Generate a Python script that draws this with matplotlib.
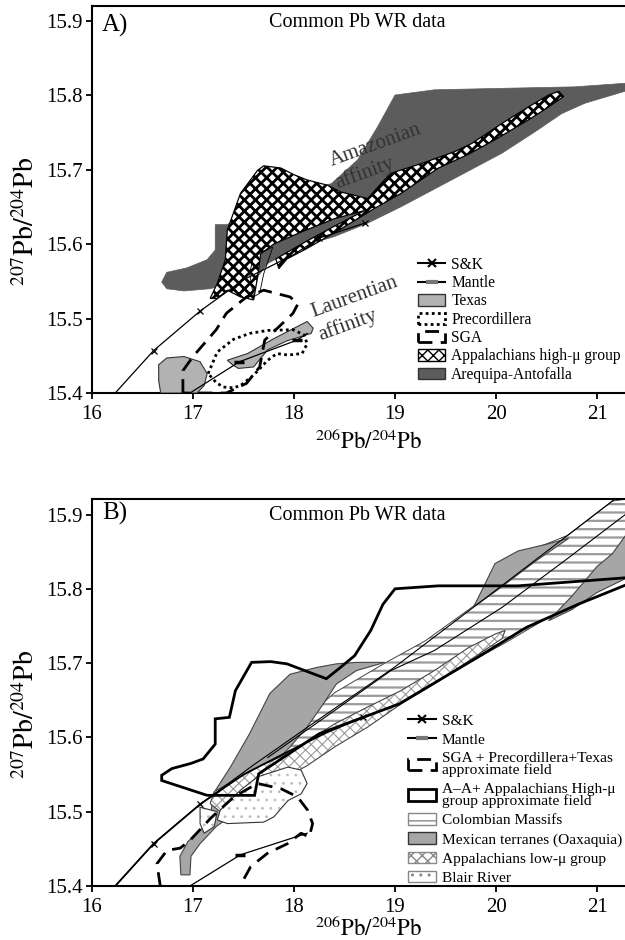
import matplotlib
matplotlib.use('Agg')
import matplotlib.pyplot as plt
from matplotlib.patches import Polygon, Patch
from matplotlib.lines import Line2D

plt.rcParams['font.family'] = ['Liberation Serif', 'DejaVu Serif']
plt.rcParams['mathtext.fontset'] = 'stix'

# ---------------- Panel A data ----------------
xticks = [16, 17, 18, 19, 20, 21]
yticks = [15.4, 15.5, 15.6, 15.7, 15.8, 15.9]

sk_a_x = [16.23, 16.61, 17.07, 17.50, 18.00, 18.25, 18.70]
sk_a_y = [15.400, 15.457, 15.510, 15.552, 15.586, 15.608, 15.628]
sk_a_mx = [16.61, 17.07, 18.25, 18.70]
sk_a_my = [15.457, 15.510, 15.608, 15.628]

mantle_a_x = [16.97, 17.46, 18.03, 18.13]
mantle_a_y = [15.400, 15.442, 15.471, 15.480]
mantle_a_mx = [17.46, 18.03]
mantle_a_my = [15.442, 15.471]

areq_x = [16.69, 16.74, 16.94, 17.14, 17.22, 17.22, 17.34, 17.60, 18.00, 18.37, 18.63, 18.83,
          19.00, 19.39, 20.06, 20.78, 21.30, 21.30, 20.88, 20.65, 20.39, 20.06, 19.56, 19.06,
          18.73, 18.40, 18.07, 17.74, 17.64, 17.17, 16.91, 16.74]
areq_y = [15.549, 15.562, 15.568, 15.579, 15.592, 15.626, 15.626, 15.650, 15.670, 15.681, 15.713, 15.758,
          15.800, 15.807, 15.809, 15.811, 15.816, 15.806, 15.789, 15.775, 15.751, 15.722, 15.686, 15.650,
          15.628, 15.610, 15.597, 15.574, 15.556, 15.540, 15.537, 15.540]

appal_x = [17.17, 17.24, 17.32, 17.34, 17.47, 17.64, 17.70, 17.87, 18.00, 18.13, 18.33, 18.46, 18.73,
           18.86, 18.96, 19.26, 19.59, 19.76, 20.06, 20.32, 20.52, 20.62, 20.67, 20.52, 20.35, 19.99,
           19.72, 19.43, 19.06, 18.80, 18.40, 18.10, 17.93, 17.85, 17.82, 18.10, 18.40, 18.70, 18.40,
           18.07, 17.80, 17.67, 17.64, 17.60, 17.47, 17.34, 17.24]
appal_y = [15.527, 15.547, 15.579, 15.619, 15.668, 15.699, 15.705, 15.702, 15.693, 15.686, 15.679, 15.670, 15.661,
           15.681, 15.695, 15.708, 15.724, 15.735, 15.762, 15.784, 15.800, 15.805, 15.798, 15.784, 15.769, 15.740,
           15.720, 15.702, 15.668, 15.648, 15.615, 15.592, 15.580, 15.567, 15.580, 15.602, 15.624, 15.645, 15.634,
           15.616, 15.600, 15.587, 15.556, 15.525, 15.529, 15.538, 15.527]

small_x = [17.56, 17.60, 17.79, 17.70, 17.66, 17.60]
small_y = [15.561, 15.583, 15.596, 15.560, 15.534, 15.529]

tex1_x = [16.66, 16.74, 16.91, 17.07, 17.14, 17.11, 17.04, 16.68, 16.66]
tex1_y = [15.438, 15.447, 15.449, 15.442, 15.426, 15.410, 15.400, 15.400, 15.417]
tex2_x = [17.34, 17.54, 17.80, 18.03, 18.13, 18.19, 18.17, 17.93, 17.74, 17.60, 17.45, 17.39]
tex2_y = [15.444, 15.453, 15.473, 15.489, 15.496, 15.487, 15.480, 15.470, 15.458, 15.435, 15.433, 15.438]

prec_x = [17.15, 17.24, 17.40, 17.56, 17.74, 17.99, 18.10, 18.13, 18.08, 17.94, 17.83, 17.74, 17.60,
          17.47, 17.40, 17.30, 17.23, 17.15]
prec_y = [15.426, 15.455, 15.472, 15.480, 15.484, 15.485, 15.478, 15.466, 15.453, 15.451, 15.453, 15.444, 15.424,
          15.410, 15.407, 15.408, 15.414, 15.426]

sga_x = [16.90, 16.90, 17.00, 17.23, 17.33, 17.53, 17.70, 17.96, 18.04, 17.99, 17.89, 17.71, 17.66, 17.53, 17.33, 16.90]
sga_y = [15.400, 15.430, 15.449, 15.485, 15.507, 15.529, 15.538, 15.529, 15.520, 15.507, 15.494, 15.471, 15.435,
         15.413, 15.400, 15.400]

# ---------------- Panel B data ----------------
sk_b_x = [16.23, 16.61, 17.07, 17.50, 18.00, 18.33, 18.68]
sk_b_y = [15.400, 15.457, 15.510, 15.550, 15.585, 15.607, 15.627]
sk_b_mx = [16.61, 17.07, 18.68]
sk_b_my = [15.457, 15.510, 15.627]

mantle_b_x = [16.97, 17.47, 18.13]
mantle_b_y = [15.400, 15.442, 15.471]
mantle_b_mx = [17.47]
mantle_b_my = [15.442]

line1_x = [16.23, 16.61, 17.07, 17.60, 18.20, 19.00, 19.785, 20.71, 21.17]
line1_y = [15.400, 15.457, 15.510, 15.563, 15.620, 15.695, 15.776, 15.872, 15.920]
line2_x = [17.74, 18.40, 18.96, 19.39, 20.06, 20.72, 21.30]
line2_y = [15.573, 15.636, 15.690, 15.717, 15.775, 15.842, 15.902]

col_x = [17.60, 17.90, 18.40, 18.90, 19.30, 19.78, 20.00, 20.40, 20.71, 21.15, 21.30, 21.30, 20.90,
         20.50, 20.10, 19.70, 19.30, 18.90, 18.50, 18.10, 17.80]
col_y = [15.560, 15.600, 15.660, 15.700, 15.730, 15.777, 15.820, 15.855, 15.872, 15.918, 15.921, 15.830, 15.790,
         15.760, 15.728, 15.698, 15.665, 15.635, 15.605, 15.578, 15.563]

mex1_x = [16.88, 16.87, 16.95, 17.07, 17.17, 17.20, 17.37, 17.56, 17.76, 17.96, 18.22, 18.42, 18.62, 18.90,
          18.62, 18.42, 18.29, 18.13, 17.96, 17.83, 17.56, 17.40, 17.23, 17.07, 16.98, 16.97]
mex1_y = [15.415, 15.440, 15.460, 15.475, 15.490, 15.524, 15.560, 15.605, 15.659, 15.685, 15.694, 15.699, 15.701, 15.701,
          15.690, 15.672, 15.645, 15.614, 15.587, 15.569, 15.524, 15.497, 15.480, 15.457, 15.440, 15.415]
mex2_x = [19.78, 19.99, 20.22, 20.50, 20.72, 20.40, 20.00]
mex2_y = [15.776, 15.834, 15.851, 15.860, 15.868, 15.838, 15.797]
mex3_x = [20.52, 20.75, 21.00, 21.15, 21.30, 21.30, 21.00, 20.75]
mex3_y = [15.757, 15.790, 15.830, 15.847, 15.875, 15.815, 15.795, 15.772]

low_x = [17.17, 17.21, 17.47, 17.67, 17.94, 18.40, 18.73, 19.06, 19.39, 19.73, 19.99, 20.09, 20.06, 19.73,
         19.39, 19.06, 18.73, 18.40, 18.13, 17.94, 17.54, 17.27]
low_y = [15.511, 15.527, 15.547, 15.562, 15.578, 15.618, 15.641, 15.663, 15.690, 15.721, 15.739, 15.744, 15.733, 15.703,
         15.672, 15.645, 15.614, 15.587, 15.562, 15.548, 15.528, 15.500]

blair_x = [17.64, 17.94, 18.07, 18.13, 18.07, 17.94, 17.80, 17.70, 17.34, 17.24, 17.27, 17.47]
blair_y = [15.547, 15.560, 15.556, 15.538, 15.524, 15.515, 15.493, 15.486, 15.484, 15.489, 15.502, 15.529]
blair2_x = [17.07, 17.24, 17.21, 17.11, 17.07]
blair2_y = [15.506, 15.500, 15.480, 15.471, 15.484]

spt_x = [16.676, 16.643, 16.743, 16.874, 16.974, 17.173, 17.405, 17.637, 17.869, 18.035, 18.135, 18.184,
         18.151, 18.070, 17.936, 17.737, 17.571, 17.465]
spt_y = [15.400, 15.430, 15.448, 15.451, 15.462, 15.491, 15.520, 15.538, 15.531, 15.520, 15.502, 15.484,
         15.466, 15.471, 15.457, 15.444, 15.426, 15.400]

aa_x = [17.14, 16.69, 16.69, 16.79, 16.98, 17.10, 17.22, 17.22, 17.36, 17.42, 17.58, 17.77, 17.93, 18.32,
        18.44, 18.60, 18.76, 18.88, 19.00, 19.43, 20.22, 21.30, 21.30, 20.81, 20.30, 19.82, 19.04, 18.25,
        17.65, 17.61]
aa_y = [15.522, 15.542, 15.549, 15.558, 15.565, 15.571, 15.591, 15.625, 15.627, 15.663, 15.701, 15.702, 15.699, 15.679,
        15.692, 15.710, 15.744, 15.779, 15.800, 15.804, 15.804, 15.815, 15.806, 15.779, 15.748, 15.708, 15.645, 15.605,
        15.551, 15.522]

AREQ = '#5c5c5c'
TEX = '#b2b2b2'
MEX = '#a6a6a6'


def poly(ax, xs, ys, z, **kw):
    p = Polygon(list(zip(xs, ys)), closed=True, zorder=z, **kw)
    ax.add_patch(p)
    return p


def hatched(ax, xs, ys, z, hatch, hcolor, hlw, outline='k', olw=0.8):
    old = plt.rcParams['hatch.linewidth']
    plt.rcParams['hatch.linewidth'] = hlw
    p = Polygon(list(zip(xs, ys)), closed=True, zorder=z, facecolor='white',
                edgecolor=hcolor, lw=0, hatch=hatch)
    if hasattr(p, 'set_hatch_linewidth'):
        p.set_hatch_linewidth(hlw)
    ax.add_patch(p)
    plt.rcParams['hatch.linewidth'] = old
    poly(ax, xs, ys, z + 0.01, fill=False, edgecolor=outline, lw=olw)


def hpatch(hatch, hcolor, hlw, **kw):
    old = plt.rcParams['hatch.linewidth']
    plt.rcParams['hatch.linewidth'] = hlw
    p = Patch(facecolor='white', edgecolor=hcolor, hatch=hatch, **kw)
    if hasattr(p, 'set_hatch_linewidth'):
        p.set_hatch_linewidth(hlw)
    plt.rcParams['hatch.linewidth'] = old
    return p


def style_axes(ax, ylim_top, label_y, xlabel_y):
    ax.set_xlim(16, 21.277)
    ax.set_ylim(15.4, ylim_top)
    ax.set_xticks(xticks)
    ax.set_yticks(yticks)
    ax.set_xticklabels([str(v) for v in xticks])
    ax.set_yticklabels([f'{v:.1f}' for v in yticks])
    ax.spines['right'].set_visible(False)
    for s in ['left', 'top', 'bottom']:
        ax.spines[s].set_linewidth(1.5)
    ax.tick_params(axis='both', direction='out', length=4.5, width=1.3, labelsize=15)
    ax.tick_params(axis='x', pad=4)
    ax.tick_params(axis='y', pad=2)
    ax.set_xlabel(r'$^{206}\mathrm{Pb}/^{204}\mathrm{Pb}$', fontsize=16.5)
    ax.set_ylabel(r'$^{207}\mathrm{Pb}/^{204}\mathrm{Pb}$', fontsize=20)
    ax.yaxis.set_label_coords(-0.098, label_y)
    ax.xaxis.set_label_coords(0.518, xlabel_y)
    ax.text(0.498, 0.957, 'Common Pb WR data', transform=ax.transAxes, ha='center', va='center',
            fontsize=14.5)


fig = plt.figure(figsize=(6.25, 9.4), dpi=100)
axA = fig.add_axes([0.1472, 0.5819, 0.8528, 0.4117])
axB = fig.add_axes([0.1472, 0.05745, 0.8528, 0.4114])

# ---------- Panel A ----------
poly(axA, areq_x, areq_y, 1, facecolor=AREQ, edgecolor=AREQ, lw=0.5)
hatched(axA, appal_x, appal_y, 2, 'xxx', 'black', 2.0, outline='k', olw=0.9)
poly(axA, small_x, small_y, 3, fill=False, edgecolor='k', lw=0.6)
poly(axA, tex1_x, tex1_y, 3, facecolor=TEX, edgecolor='#333333', lw=0.8)
poly(axA, tex2_x, tex2_y, 3, facecolor=TEX, edgecolor='#333333', lw=0.8)
axA.plot(prec_x, prec_y, color='k', lw=2, ls=(0, (1, 1.2)), zorder=5)
axA.plot(sga_x, sga_y, color='k', lw=2, ls=(0, (5, 3)), zorder=5)
axA.plot(sk_a_x, sk_a_y, color='k', lw=0.9, zorder=6)
axA.plot(sk_a_mx, sk_a_my, ls='none', marker='x', ms=5, mew=0.9, color='k', zorder=6)
axA.plot(mantle_a_x, mantle_a_y, color='k', lw=0.9, zorder=6)
axA.plot(mantle_a_mx, mantle_a_my, ls='none', marker='_', ms=7, mew=2.5, color='k', zorder=6)

axA.text(18.81, 15.733, 'Amazonian', rotation=20, rotation_mode='anchor', ha='center', va='center',
         fontsize=15, color='#333333', zorder=7)
axA.text(18.70, 15.695, 'affinity', rotation=20, rotation_mode='anchor', ha='center', va='center',
         fontsize=15, color='#333333', zorder=7)
axA.text(18.60, 15.529, 'Laurentian', rotation=20, rotation_mode='anchor', ha='center', va='center',
         fontsize=15, color='#333333', zorder=7)
axA.text(18.53, 15.491, 'affinity', rotation=20, rotation_mode='anchor', ha='center', va='center',
         fontsize=15, color='#333333', zorder=7)
axA.text(0.019, 0.951, 'A)', transform=axA.transAxes, ha='left', va='center', fontsize=18)
style_axes(axA, 15.9195, 0.444, -0.093)

hA = [Line2D([], [], color='k', lw=1.5, marker='x', ms=6, mew=1.5),
      Line2D([], [], color='k', lw=1.5, marker='_', ms=8, mew=3, mec='#777777'),
      Patch(facecolor=TEX, edgecolor='#333333', lw=1),
      Patch(facecolor='white', edgecolor='k', lw=2, ls=(0, (1, 1.2))),
      Patch(facecolor='white', edgecolor='k', lw=2, ls=(0, (5, 3))),
      hpatch('xxx', 'k', 2.0, lw=1),
      Patch(facecolor=AREQ, edgecolor='#333333', lw=1)]
lA = ['S&K', 'Mantle', 'Texas', 'Precordillera', 'SGA', 'Appalachians high-μ group', 'Arequipa-Antofalla']
legA = axA.legend(hA, lA, loc='upper left', bbox_to_anchor=(0.611, 0.352), frameon=False, fontsize=11.2,
                  handlelength=1.78, handleheight=0.75, handletextpad=0.38, labelspacing=0.15,
                  borderpad=0, borderaxespad=0)
legA.set_zorder(10)

# ---------- Panel B ----------
hatched(axB, col_x, col_y, 1, '--', '#9a9a9a', 1.6, outline='#444444', olw=0.7)
poly(axB, mex1_x, mex1_y, 2, facecolor=MEX, edgecolor='#444444', lw=0.8)
poly(axB, mex2_x, mex2_y, 2, facecolor=MEX, edgecolor='#444444', lw=0.8)
poly(axB, mex3_x, mex3_y, 2, facecolor=MEX, edgecolor='#444444', lw=0.8)
hatched(axB, low_x, low_y, 3, 'xxx', '#9a9a9a', 0.8, outline='#444444', olw=0.8)
hatched(axB, blair_x, blair_y, 4, '..', '#bdbdbd', 0.8, outline='#333333', olw=0.8)
hatched(axB, blair2_x, blair2_y, 4, '..', '#bdbdbd', 0.8, outline='#333333', olw=0.8)
axB.plot(line1_x, line1_y, color='k', lw=0.8, zorder=6)
axB.plot(line2_x, line2_y, color='k', lw=0.8, zorder=6)
poly(axB, aa_x, aa_y, 7, fill=False, edgecolor='k', lw=2)
axB.plot(spt_x, spt_y, color='k', lw=2, ls=(0, (5, 3)), zorder=7)
axB.plot(sk_b_x, sk_b_y, color='k', lw=1.3, zorder=8)
axB.plot(sk_b_mx, sk_b_my, ls='none', marker='x', ms=5, mew=0.9, color='k', zorder=8)
axB.plot(mantle_b_x, mantle_b_y, color='k', lw=0.9, zorder=8)
axB.plot(mantle_b_mx, mantle_b_my, ls='none', marker='_', ms=7, mew=2.5, color='k', zorder=8)
axB.text(0.019, 0.9646, 'B)', transform=axB.transAxes, ha='left', va='center', fontsize=18)
style_axes(axB, 15.9205, 0.444, -0.078)

hB = [Line2D([], [], color='k', lw=1.5, marker='x', ms=6, mew=1.5),
      Line2D([], [], color='k', lw=1.5, marker='_', ms=8, mew=3, mec='#777777'),
      Patch(facecolor='white', edgecolor='k', lw=2, ls=(0, (5, 3))),
      Patch(facecolor='white', edgecolor='k', lw=2),
      hpatch('--', '#888888', 1.5, lw=1),
      Patch(facecolor=MEX, edgecolor='#333333', lw=1),
      hpatch('xxx', '#888888', 0.8, lw=1),
      hpatch('..', '#888888', 0.8, lw=1)]
lB = ['S&K', 'Mantle', 'SGA + Precordillera+Texas\napproximate field',
      'A–A+ Appalachians High-μ\ngroup approximate field', 'Colombian Massifs',
      'Mexican terranes (Oaxaquia)', 'Appalachians low-μ group', 'Blair River']
legB = axB.legend(hB, lB, loc='upper left', bbox_to_anchor=(0.593, 0.446), frameon=False, fontsize=11.1,
                  handlelength=1.8, handleheight=0.75, handletextpad=0.38, labelspacing=0.33,
                  borderpad=0, borderaxespad=0)
for t in legB.get_texts():
    t.set_linespacing(0.9)
legB.set_zorder(10)

fig.savefig('out.png', dpi=100)
